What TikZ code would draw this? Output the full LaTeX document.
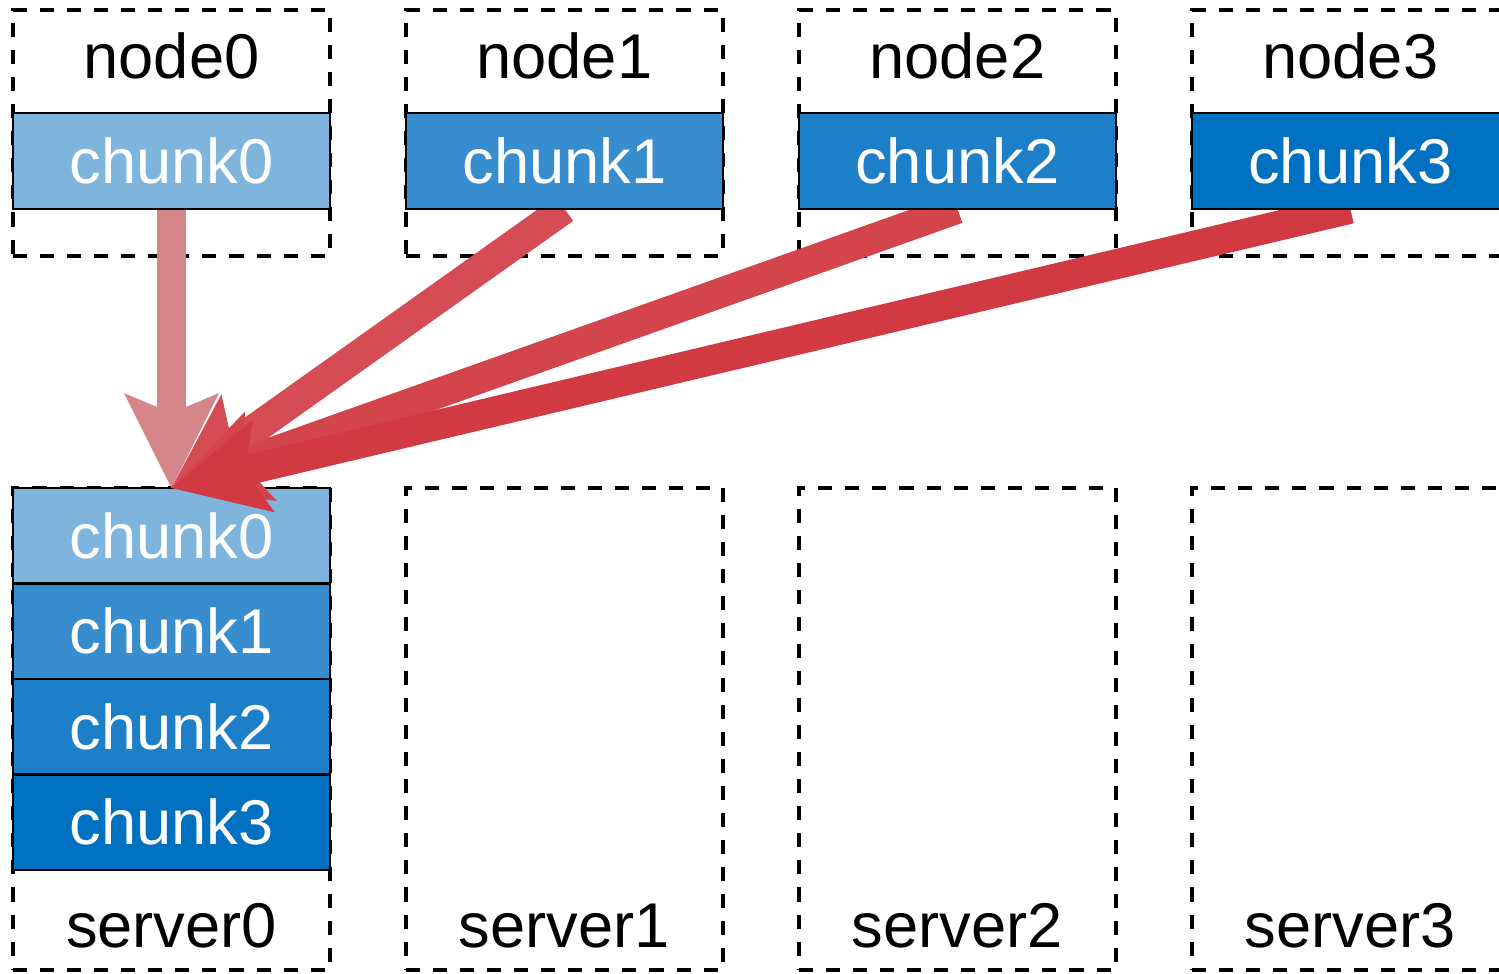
\documentclass[tikz,border=0pt]{standalone}
\usepackage{fontspec}
\setmainfont{Liberation Sans}
\usetikzlibrary{arrows.meta, positioning}
\definecolor{ChunkA}{HTML}{7FB5DD}
\definecolor{ChunkB}{HTML}{388DCE}
\definecolor{ChunkC}{HTML}{1D7FC7}
\definecolor{ChunkD}{HTML}{0070C0}
\definecolor{MoveRed}{HTML}{D0343D}
\definecolor{MovePink}{HTML}{D4868B}
\pgfdeclarelayer{front}
\pgfsetlayers{main,front}

\begin{document}
\begin{tikzpicture}[
  x=0.02cm, y=-0.02cm,
  font=\fontsize{36}{40}\selectfont,
  frame/.style={rectangle, draw=black, line width=2.1pt, dash pattern=on 8pt off 7.4pt,
                minimum width=6.34cm, inner sep=0pt, outer sep=0pt},
  chunk/.style={rectangle, draw=black, line width=1.3pt, text=white, inner sep=0pt,
                outer sep=0pt, minimum width=6.34cm, minimum height=1.91cm},
  tag/.style={anchor=base, text=black, inner sep=0pt},
  move/.style={line width=0.6cm,
               -{Stealth[length=1.9cm, width=1.9cm, inset=0.4cm, line width=0pt]}},
]
\clip (0,0) rectangle (1499,974);
% nodes
\node[frame, minimum height=4.92cm] (box0) at (171.5,133) {};
\node[frame, minimum height=4.92cm, right=1.52cm of box0] (box1) {};
\node[frame, minimum height=4.92cm, right=1.52cm of box1] (box2) {};
\node[frame, minimum height=4.92cm, right=1.52cm of box2] (box3) {};
\node[tag] (name0) at ([yshift=-1.36cm]box0.north) {node0};
\node[tag] (name1) at ([yshift=-1.36cm]box1.north) {node1};
\node[tag] (name2) at ([yshift=-1.36cm]box2.north) {node2};
\node[tag] (name3) at ([yshift=-1.36cm]box3.north) {node3};
\begin{pgfonlayer}{front}
\node[chunk, fill=ChunkA] (c0) at ([yshift=-0.56cm]box0.center) {chunk0};
\node[chunk, fill=ChunkB] (c1) at ([yshift=-0.56cm]box1.center) {chunk1};
\node[chunk, fill=ChunkC] (c2) at ([yshift=-0.56cm]box2.center) {chunk2};
\node[chunk, fill=ChunkD] (c3) at ([yshift=-0.56cm]box3.center) {chunk3};
\end{pgfonlayer}
% servers
\node[frame, minimum height=9.64cm] (srv0) at (171.5,729) {};
\node[frame, minimum height=9.64cm, right=1.52cm of srv0] (srv1) {};
\node[frame, minimum height=9.64cm, right=1.52cm of srv1] (srv2) {};
\node[frame, minimum height=9.64cm, right=1.52cm of srv2] (srv3) {};
\node[tag] (sname0) at ([yshift=0.44cm]srv0.south) {server0};
\node[tag] (sname1) at ([yshift=0.44cm]srv1.south) {server1};
\node[tag] (sname2) at ([yshift=0.44cm]srv2.south) {server2};
\node[tag] (sname3) at ([yshift=0.44cm]srv3.south) {server3};
\node[chunk, fill=ChunkA, anchor=north] (s0c0) at (srv0.north) {chunk0};
\node[chunk, fill=ChunkB, below=0pt of s0c0] (s0c1) {chunk1};
\node[chunk, fill=ChunkC, below=0pt of s0c1] (s0c2) {chunk2};
\node[chunk, fill=ChunkD, below=0pt of s0c2] (s0c3) {chunk3};
% gather
\draw[move, draw=MovePink] (c0.south) -- (s0c0.north);
\draw[move, draw=MoveRed!88!white] (c1.south) -- (s0c0.north);
\draw[move, draw=MoveRed!92!white] (c2.south) -- (s0c0.north);
\draw[move, draw=MoveRed!97!white] (c3.south) -- (s0c0.north);
\end{tikzpicture}
\end{document}
